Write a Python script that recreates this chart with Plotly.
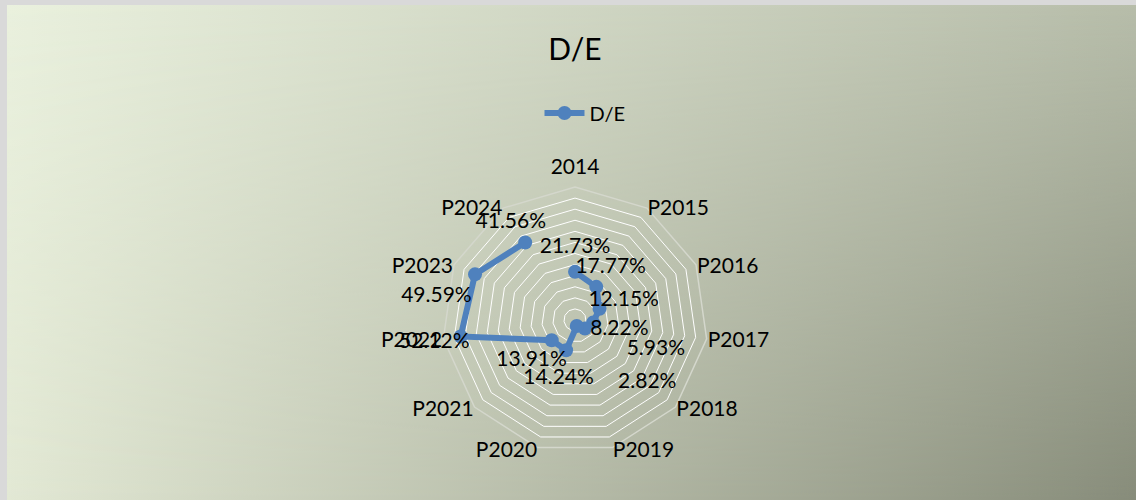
import base64
import plotly.graph_objects as go

# ---- data ----
categories = ["2014", "P2015", "P2016", "P2017", "P2018", "P2019",
              "P2020", "P2021", "P2022", "P2023", "P2024"]
de_values = [21.73, 17.77, 12.15, 8.22, 5.93, 2.82, 14.24, 13.91, 52.12, 49.59, 41.56]
series_name = "D/E"
chart_title = "D/E"
r_max = 60
r_step = 5

# ---- label placement styles ----
# value labels: outward pad (r units) and angular nudge (degrees)
label_pad = [12, 12, 12, 12, 32.5, 39.5, 12, 12, 12, 14, 12]
label_dtheta = [0, 0, 0, 0, -22.5, -34, 0, 0, 0, -14, 0]
# category labels: pad beyond the outer ring and anchor side
cat_pad = [5, 0.5, 0.5, 0.5, 0.5, 0.5, 0.5, 0.5, 0.5, 0.5, 0.5]
cat_pos = ["top center", "middle right", "middle right", "middle right",
           "middle right", "middle right", "middle left", "middle left",
           "middle left", "middle left", "middle left"]

W, H = 1136, 500
FONT = "Lato, Carlito, Calibri, sans-serif"
BLUE = "#4F81BD"

# gradient background (bilinear: top row and bottom row blended vertically)
gw, gh = 1129, 495
svg = f'''<svg xmlns="http://www.w3.org/2000/svg" width="{gw}" height="{gh}" viewBox="0 0 {gw} {gh}" preserveAspectRatio="none">
<defs>
<linearGradient id="t" x1="0" y1="0" x2="1" y2="0">
<stop offset="0" stop-color="rgb(234,241,222)"/><stop offset="1" stop-color="rgb(183,189,170)"/></linearGradient>
<linearGradient id="b" x1="0" y1="0" x2="1" y2="0">
<stop offset="0" stop-color="rgb(226,232,212)"/><stop offset="1" stop-color="rgb(135,140,122)"/></linearGradient>
<linearGradient id="v" x1="0" y1="0" x2="0" y2="1">
<stop offset="0" stop-color="black"/><stop offset="1" stop-color="white"/></linearGradient>
<mask id="m"><rect x="0" y="0" width="{gw}" height="{gh}" fill="url(#v)"/></mask>
</defs>
<rect x="0" y="0" width="{gw}" height="{gh}" fill="url(#t)"/>
<rect x="0" y="0" width="{gw}" height="{gh}" fill="url(#b)" mask="url(#m)"/>
</svg>'''
svg_uri = "data:image/svg+xml;base64," + base64.b64encode(svg.encode()).decode()

n = len(categories)
cat_angle = [i * 360 / n for i in range(n)]

fig = go.Figure()

# main series on the categorical radar
fig.add_trace(go.Scatterpolar(
    r=de_values, theta=categories, name=series_name,
    mode="lines+markers",
    line=dict(color=BLUE, width=6),
    marker=dict(color=BLUE, size=14),
    cliponaxis=False, hoverinfo="skip",
    subplot="polar",
))

# value labels on an overlaid numeric polar (same scale)
fig.add_trace(go.Scatterpolar(
    r=[v + p for v, p in zip(de_values, label_pad)],
    theta=[a + d for a, d in zip(cat_angle, label_dtheta)],
    mode="text",
    text=[f"{v:.2f}%" for v in de_values],
    textposition="middle center",
    textfont=dict(family=FONT, size=21, color="black"),
    showlegend=False, cliponaxis=False, hoverinfo="skip",
    subplot="polar2",
))

# category labels
fig.add_trace(go.Scatterpolar(
    r=[r_max + p for p in cat_pad], theta=cat_angle,
    mode="text", text=categories, textposition=cat_pos,
    textfont=dict(family=FONT, size=21, color="black"),
    showlegend=False, cliponaxis=False, hoverinfo="skip",
    subplot="polar2",
))

cx, cy, R = 575, 320, 133          # centre and outer radius in pixels
cy2 = cy + 3                        # text overlay nudged to match baseline
r2_max = 76
R2 = R * r2_max / r_max            # overlay polar keeps the same r scale
fig.update_layout(
    width=W, height=H, autosize=False,
    margin=dict(l=0, r=0, t=0, b=0),
    paper_bgcolor="#d9d9d9",
    font=dict(family=FONT, size=20, color="black"),
    title=dict(text=chart_title, x=575 / W, xanchor="center",
               y=1 - 49 / H, yanchor="middle",
               font=dict(family=FONT, size=30, color="black")),
    legend=dict(x=585 / W, xanchor="center", y=1 - 113 / H, yanchor="middle",
                orientation="h", bgcolor="rgba(0,0,0,0)",
                font=dict(family=FONT, size=20, color="black"),
                itemwidth=40),
    images=[dict(source=svg_uri, xref="paper", yref="paper",
                 x=7 / W, y=1 - 5 / H, sizex=gw / W, sizey=gh / H,
                 xanchor="left", yanchor="top", sizing="stretch", layer="below")],
    polar=dict(
        domain=dict(x=[(cx - R) / W, (cx + R) / W],
                    y=[(H - cy - R) / H, (H - cy + R) / H]),
        bgcolor="rgba(0,0,0,0)",
        gridshape="linear",
        radialaxis=dict(range=[0, r_max], dtick=r_step, showticklabels=False, ticks="",
                        showline=False, gridcolor="white", gridwidth=1.2),
        angularaxis=dict(direction="clockwise", rotation=90, showgrid=False,
                         showline=True, linecolor="#d4d7cc", linewidth=1.5,
                         ticks="", showticklabels=False),
    ),
    polar2=dict(
        domain=dict(x=[(cx - R2) / W, (cx + R2) / W],
                    y=[(H - cy2 - R2) / H, (H - cy2 + R2) / H]),
        bgcolor="rgba(0,0,0,0)",
        radialaxis=dict(range=[0, r2_max], visible=False),
        angularaxis=dict(direction="clockwise", rotation=90, visible=False),
    ),
)

fig.write_html("out.html", config={"displayModeBar": False},
               post_script="document.body.style.margin='0';document.body.style.overflow='hidden';")
